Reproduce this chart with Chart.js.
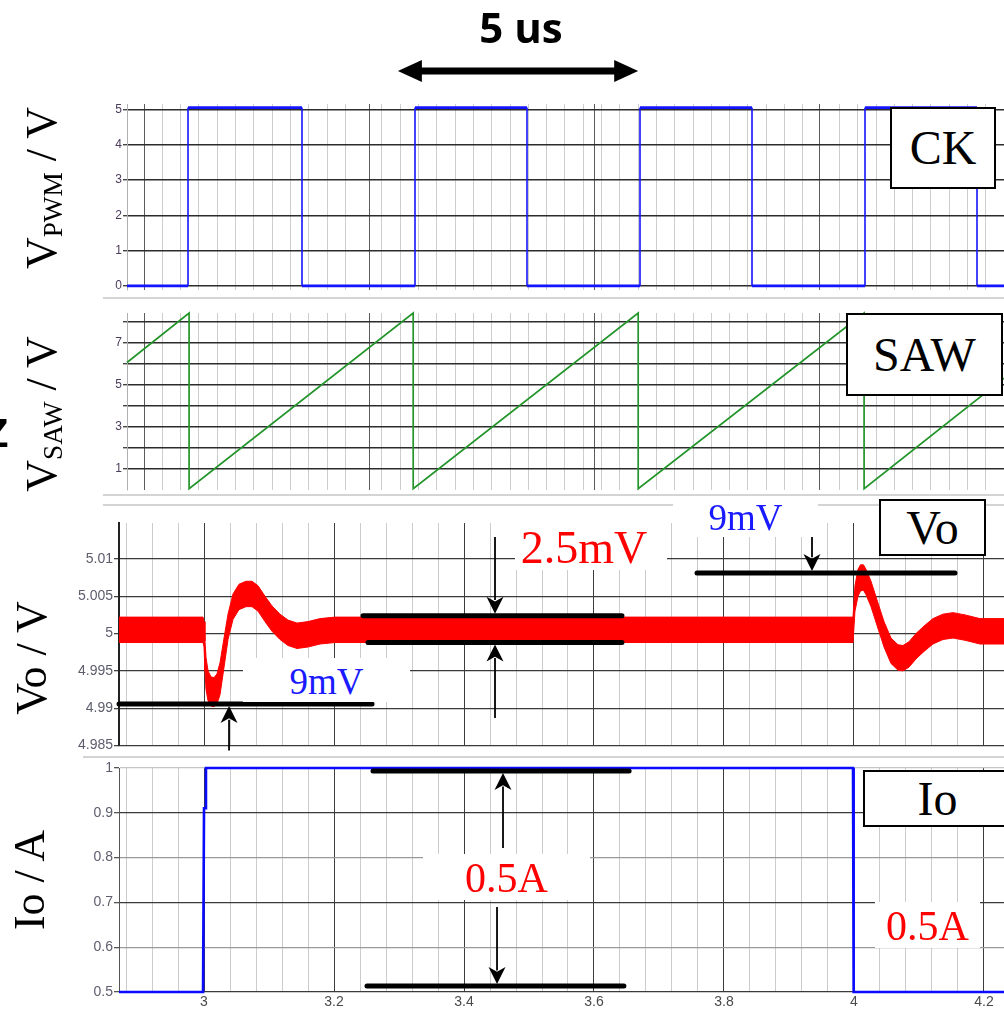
<!DOCTYPE html>
<html>
<head>
<meta charset="utf-8">
<title>V_PWM / V_SAW / Vo / Io</title>
<script src="https://cdn.jsdelivr.net/npm/chart.js@4.4.1/dist/chart.umd.min.js"></script>
<style>
  html, body { margin:0; padding:0; background:#fff; }
  body { width:1004px; height:1009px; position:relative; overflow:hidden; }
  canvas { position:absolute; left:0; }
  .sep { position:absolute; height:2px; background:#d4d4d4; }
  .serif { font-family:"Liberation Serif","Times New Roman",serif; }
  .ytitle { position:absolute; white-space:nowrap; line-height:1; font-size:44px; color:#000;
            transform:translate(-50%,-50%) rotate(-90deg); }
  .ytitle sub { font-size:0.62em; vertical-align:-0.22em; line-height:0; }
  .box { position:absolute; box-sizing:border-box; background:#fff; border:2px solid #000;
         display:flex; align-items:center; justify-content:center; line-height:1; font-size:48px; color:#000; }
  .tag { position:absolute; box-sizing:border-box; background:#fff; display:flex; align-items:center;
         justify-content:center; line-height:1; white-space:nowrap; }
</style>
</head>
<body>
<canvas id="c1" width="1004" height="298" style="top:0px"></canvas>
<canvas id="c2" width="1004" height="200" style="top:298px"></canvas>
<canvas id="c3" width="1004" height="257" style="top:498px"></canvas>
<canvas id="c4" width="1004" height="254" style="top:755px"></canvas>

<div class="sep" style="left:103px;top:297px;width:901px"></div>
<div class="sep" style="left:103px;top:494px;width:901px"></div>
<div class="sep" style="left:103px;top:504px;width:901px"></div>
<div class="sep" style="left:83px;top:756px;width:921px"></div>

<div style="position:absolute;left:521px;top:27px;transform:translate(-50%,-50%);font:700 42px 'Open Sans',sans-serif;line-height:1;white-space:nowrap;color:#000">5 us</div>

<div class="ytitle serif" style="left:42px;top:188px">V<sub>PWM</sub> / V</div>
<div class="ytitle serif" style="left:42px;top:414px">V<sub>SAW</sub> / V</div>
<div class="ytitle serif" style="left:32px;top:658px">Vo / V</div>
<div class="ytitle serif" style="left:30px;top:880px">Io / A</div>
<div style="position:absolute;left:-16px;top:413px;font:700 40px 'Liberation Sans',sans-serif;line-height:1;color:#000">Z</div>

<div class="box serif" style="left:890px;top:107px;width:106px;height:82px">CK</div>
<div class="box serif" style="left:846px;top:313px;width:157px;height:83px">SAW</div>
<div class="box serif" style="left:879px;top:499px;width:107px;height:57px">Vo</div>
<div class="box serif" style="left:863px;top:770px;width:149px;height:57px">Io</div>

<div class="tag serif" style="left:515px;top:523px;width:152px;height:47px;color:#ff0000;font-size:46px;padding-right:14px;padding-top:3px">2.5mV</div>
<div class="tag serif" style="left:243px;top:658px;width:167px;height:44px;color:#1a1aff;font-size:37px;padding-top:2px">9mV</div>
<div class="tag serif" style="left:673px;top:497px;width:145px;height:40px;color:#1a1aff;font-size:37px">9mV</div>
<div class="tag serif" style="left:423px;top:854px;width:167px;height:46px;color:#ff0000;font-size:42px;padding-top:2px">0.5A</div>
<div class="tag serif" style="left:875px;top:902px;width:105px;height:46px;color:#ff0000;font-size:42px;padding-top:2px">0.5A</div>

<script>
// ================= DATA =================
// Panels 1-2: time in microseconds
const pwmTime  = [0, 1.356, 1.356, 3.889, 3.889, 6.4, 6.4, 8.889, 8.889, 11.4, 11.4, 13.889, 13.889, 16.4, 16.4, 18.889, 18.889, 19.489];
const pwmValue = [0, 0, 5.05, 5.05, 0, 0, 5.05, 5.05, 0, 0, 5.05, 5.05, 0, 0, 5.05, 5.05, 0, 0];
const sawTime  = [0, 1.38, 1.38, 6.36, 6.36, 11.36, 11.36, 16.38, 16.38, 19.489];
const sawValue = [6.05, 8.4, 0.05, 8.4, 0.05, 8.4, 0.05, 8.4, 0.05, 5.3];
const pwmTicks = [0, 1, 2, 3, 4, 5];
const sawTicks = [1, 2, 3, 4, 5, 6, 7, 8];
const sawLabels = [1, 3, 5, 7];
const clkMajors = [0.378, 5.378, 10.378, 15.378];

// Panels 3-4: time axis
const timeLabels = [3, 3.2, 3.4, 3.6, 3.8, 4, 4.2];
const voTime = [2.8692, 2.9985, 3.0000, 3.0015, 3.0031, 3.0062, 3.0108, 3.0154, 3.0200, 3.0246, 3.0308, 3.0369, 3.0446,
                3.0538, 3.0646, 3.0738, 3.0831, 3.0938, 3.1046, 3.1169, 3.1292, 3.1431, 3.1600, 3.1785, 3.2015,
                3.9938, 3.9985, 4.0015, 4.0062, 4.0100, 4.0146, 4.0185, 4.0262, 4.0354, 4.0462, 4.0569, 4.0677, 4.0754,
                4.0846, 4.0954, 4.1077, 4.1215, 4.1369, 4.1523, 4.1708, 4.1938, 4.2308];
const voUpper = [5.0022, 5.0022, 5.0016, 4.9990, 4.9968, 4.9950, 4.9942, 4.9941, 4.9946, 4.9961, 4.9994, 5.0026, 5.0053,
                 5.0066, 5.0070, 5.0070, 5.0064, 5.0050, 5.0037, 5.0026, 5.0018, 5.0014, 5.0016, 5.0020, 5.0022,
                 5.0022, 5.0022, 5.0064, 5.0086, 5.0092, 5.0092, 5.0086, 5.0070, 5.0045, 5.0016, 4.9994, 4.9985, 4.9984,
                 4.9989, 5.0000, 5.0010, 5.0020, 5.0026, 5.0028, 5.0025, 5.0020, 5.0020];
const voLower = [4.9988, 4.9988, 4.9982, 4.9950, 4.9925, 4.9910, 4.9903, 4.9902, 4.9906, 4.9918, 4.9955, 4.9992, 5.0019,
                 5.0032, 5.0036, 5.0036, 5.0030, 5.0016, 5.0003, 4.9992, 4.9984, 4.9980, 4.9982, 4.9986, 4.9988,
                 4.9988, 4.9988, 5.0030, 5.0050, 5.0057, 5.0058, 5.0052, 5.0036, 5.0011, 4.9982, 4.9960, 4.9951, 4.9950,
                 4.9955, 4.9966, 4.9976, 4.9986, 4.9992, 4.9994, 4.9991, 4.9986, 4.9986];
const voTicks = [4.985, 4.99, 4.995, 5, 5.005, 5.01];
const ioTime  = [2.8692, 2.9985, 3.0000, 3.0020, 3.0030, 3.9985, 3.9995, 4.2308];
const ioValue = [0.5, 0.5, 0.91, 0.91, 1.0, 1.0, 0.5, 0.5];
const ioTicks = [0.5, 0.6, 0.7, 0.8, 0.9, 1.0];

// annotation anchors (data units)
const usArrow   = [6.02, 11.36];          // "5 us" span on the clock time axis
const vo9mvLow  = {y: 4.99056, x1: 3.2585, ax: 3.0385, from: 4.98433};
const vo25Up    = {y: 5.0024, x0: 3.2446, x1: 3.643};
const vo25Low   = {y: 4.9988, x0: 3.2523, x1: 3.643};
const vo25Arrow = {x: 3.4477, fromTop: 5.01294, fromBottom: 4.9887};
const vo9mvHigh = {y: 5.00811, x0: 3.7585, x1: 4.1554, ax: 3.9354, from: 5.0139};
const ioTopLine = {y: 0.9933, x0: 3.26, x1: 3.654, ax: 3.46, from: 0.8214};
const ioBotLine = {y: 0.5134, x0: 3.2508, x1: 3.646, ax: 3.4508, from: 0.6897};

// ================= HELPERS =================
const pts = (xs, ys) => xs.map((x, i) => ({x: x, y: ys[i]}));
const fixW = w => s => { s.width = w; };
const fixH = h => s => { s.height = h; };
const setTicks = list => s => { s.ticks = list.map(v => ({value: v, major: true})); };
function timeGrid(majors, from, step, to) {
  const out = [];
  const n = Math.floor((to - from) / step + 1e-6);
  for (let i = 0; i <= n; i++) {
    const v = from + i * step;
    if (!majors.some(m => Math.abs(m - v) < step / 3)) out.push({value: v, major: false});
  }
  majors.forEach(m => out.push({value: m, major: true}));
  return out.sort((a, b) => a.value - b.value);
}
function thickLine(ctx, x0, x1, y, w) {
  ctx.lineWidth = w; ctx.lineCap = 'round';
  ctx.beginPath(); ctx.moveTo(x0, y); ctx.lineTo(x1, y); ctx.stroke();
}
function vArrow(ctx, x, yFrom, yTip, head, half) {
  const d = Math.sign(yFrom - yTip);
  ctx.lineWidth = 1.8; ctx.lineCap = 'butt';
  ctx.beginPath(); ctx.moveTo(x, yFrom); ctx.lineTo(x, yTip + d * head * 0.8); ctx.stroke();
  ctx.beginPath();
  ctx.moveTo(x, yTip);
  ctx.lineTo(x - half, yTip + d * head);
  ctx.lineTo(x, yTip + d * head * 0.72);
  ctx.lineTo(x + half, yTip + d * head);
  ctx.closePath(); ctx.fill();
}

Chart.defaults.font.family = '"Liberation Sans", Arial, sans-serif';
const base = {
  responsive: false, animation: false, devicePixelRatio: 1, events: [],
  plugins: {legend: {display: false}, tooltip: {enabled: false}}
};
const narrowFont = {size: 12, family: '"Liberation Sans Narrow","Arial Narrow","Liberation Sans",sans-serif'};
const clkX = {
  type: 'linear', min: 0, max: 19.489,
  afterBuildTicks: s => { s.ticks = timeGrid(clkMajors, 0.378, 0.4067, 19.489); },
  afterFit: fixH(0),
  ticks: {display: false},
  grid: {drawTicks: false, color: c => (c.tick && c.tick.major) ? '#5c5c5c' : '#cdcdcd', lineWidth: 1},
  border: {display: false}
};
function timeX(showLabels) {
  return {
    type: 'linear', min: 2.8692, max: 4.2308,
    afterBuildTicks: s => { s.ticks = timeGrid(timeLabels, 2.88, 0.04, 4.2308); },
    afterFit: fixH(showLabels ? 17 : 0),
    ticks: {
      display: showLabels, autoSkip: false, maxRotation: 0, padding: 2, color: '#4a4a4a',
      font: {size: 14},
      callback: (v, i, t) => (t[i] && t[i].major) ? String(+(+v).toFixed(1)) : ''
    },
    grid: {drawTicks: false, color: c => (c.tick && c.tick.major) ? '#3c3c3c' : '#cccccc', lineWidth: 1},
    border: {display: false}
  };
}
const valueFont = {size: 14};

// ================= PANEL 1 : V_PWM =================
new Chart(document.getElementById('c1'), {
  type: 'line',
  data: {datasets: [{
    data: pts(pwmTime, pwmValue), borderColor: '#1414ff', borderWidth: 2.6, pointRadius: 0, tension: 0, fill: false,
    clip: 4,
    segment: {borderWidth: c => c.p0.parsed.x === c.p1.parsed.x ? 1.6 : 2.8}
  }]},
  options: Object.assign({}, base, {
    layout: {padding: {top: 104, bottom: 8.5, left: 0, right: 0}},
    scales: {
      x: clkX,
      y: {
        min: -0.1, max: 5.15, afterBuildTicks: setTicks(pwmTicks), afterFit: fixW(127),
        ticks: {color: '#4b3b5b', font: narrowFont, padding: 1, autoSkip: false},
        grid: {color: '#2c2c2c', lineWidth: 1.4, tickLength: 4, tickColor: '#444'},
        border: {color: '#b0b0b0', width: 1}
      }
    }
  }),
  plugins: [{
    id: 'usArrow',
    afterDraw(chart) {
      const {ctx, scales: {x}} = chart;
      const xa = x.getPixelForValue(usArrow[0]), xb = x.getPixelForValue(usArrow[1]), y = 71;
      ctx.save();
      ctx.fillStyle = '#000'; ctx.strokeStyle = '#000';
      ctx.lineWidth = 7; ctx.lineCap = 'butt';
      ctx.beginPath(); ctx.moveTo(xa + 20, y); ctx.lineTo(xb - 20, y); ctx.stroke();
      ctx.beginPath(); ctx.moveTo(xa, y); ctx.lineTo(xa + 24, y - 11); ctx.lineTo(xa + 24, y + 11); ctx.closePath(); ctx.fill();
      ctx.beginPath(); ctx.moveTo(xb, y); ctx.lineTo(xb - 24, y - 11); ctx.lineTo(xb - 24, y + 11); ctx.closePath(); ctx.fill();
      ctx.restore();
    }
  }]
});

// ================= PANEL 2 : V_SAW =================
new Chart(document.getElementById('c2'), {
  type: 'line',
  data: {datasets: [{
    data: pts(sawTime, sawValue), borderColor: '#23952b', borderWidth: 1.7, pointRadius: 0, tension: 0, fill: false,
    clip: 3
  }]},
  options: Object.assign({}, base, {
    layout: {padding: {top: 15, bottom: 4.5, left: 0, right: 0}},
    scales: {
      x: clkX,
      y: {
        min: 0, max: 8.4, afterBuildTicks: setTicks(sawTicks), afterFit: fixW(127),
        ticks: {color: '#4b3b5b', font: narrowFont, padding: 1, autoSkip: false,
                callback: v => sawLabels.includes(v) ? String(v) : ''},
        grid: {color: '#2c2c2c', lineWidth: 1.4, tickLength: 4, tickColor: '#444'},
        border: {color: '#b0b0b0', width: 1}
      }
    }
  })
});

// ================= PANEL 3 : Vo =================
new Chart(document.getElementById('c3'), {
  type: 'line',
  data: {datasets: [
    {data: pts(voTime, voLower), borderColor: '#ff0000', borderWidth: 1, pointRadius: 0, tension: 0, fill: false},
    {data: pts(voTime, voUpper), borderColor: '#ff0000', borderWidth: 1, pointRadius: 0, tension: 0,
     fill: '-1', backgroundColor: '#ff0000'}
  ]},
  options: Object.assign({}, base, {
    layout: {padding: {top: 25, bottom: 8, left: 0, right: 0}},
    scales: {
      x: timeX(false),
      y: {
        min: 4.985, max: 5.0148, afterBuildTicks: setTicks(voTicks), afterFit: fixW(119),
        ticks: {color: '#5d5d6d', font: valueFont, padding: 1, autoSkip: false,
                callback: v => String(+(+v).toFixed(3))},
        grid: {color: '#3a3a3a', lineWidth: 1.3, tickLength: 5, tickColor: '#444'},
        border: {color: '#222', width: 2}
      }
    }
  }),
  plugins: [{
    id: 'voMarks',
    afterDatasetsDraw(chart) {
      const {ctx, scales: {x, y}} = chart;
      const X = v => x.getPixelForValue(v), Y = v => y.getPixelForValue(v);
      ctx.save(); ctx.strokeStyle = '#000'; ctx.fillStyle = '#000';
      thickLine(ctx, x.left, X(vo9mvLow.x1), Y(vo9mvLow.y), 5);
      thickLine(ctx, X(vo25Up.x0), X(vo25Up.x1), Y(vo25Up.y), 5);
      thickLine(ctx, X(vo25Low.x0), X(vo25Low.x1), Y(vo25Low.y), 5);
      thickLine(ctx, X(vo9mvHigh.x0), X(vo9mvHigh.x1), Y(vo9mvHigh.y), 5);
      vArrow(ctx, X(vo9mvLow.ax), Y(vo9mvLow.from), Y(vo9mvLow.y) + 2, 17, 8.5);
      vArrow(ctx, X(vo25Arrow.x), Y(vo25Arrow.fromTop), Y(vo25Up.y) - 2, 17, 8.5);
      vArrow(ctx, X(vo25Arrow.x), Y(vo25Arrow.fromBottom), Y(vo25Low.y) + 2, 17, 8.5);
      vArrow(ctx, X(vo9mvHigh.ax), Y(vo9mvHigh.from), Y(vo9mvHigh.y) - 2, 17, 8.5);
      ctx.restore();
    }
  }]
});

// ================= PANEL 4 : Io =================
const ioGridColor = v => (Math.abs(v - 0.8) < 1e-6 || Math.abs(v - 0.6) < 1e-6) ? '#9a9a9a'
                       : (Math.abs(v - 1.0) < 1e-6 ? '#c4c4c4' : '#3a3a3a');
new Chart(document.getElementById('c4'), {
  type: 'line',
  data: {datasets: [{
    data: pts(ioTime, ioValue), borderColor: '#0a0aff', borderWidth: 2.6, pointRadius: 0, tension: 0, fill: false,
    clip: 4
  }]},
  options: Object.assign({}, base, {
    layout: {padding: {top: 13, bottom: 0, left: 0, right: 0}},
    scales: {
      x: timeX(true),
      y: {
        min: 0.5, max: 1.0, afterBuildTicks: setTicks(ioTicks), afterFit: fixW(119),
        ticks: {color: '#5d5d6d', font: valueFont, padding: 1, autoSkip: false,
                callback: v => String(+(+v).toFixed(1))},
        grid: {color: c => ioGridColor(c.tick ? c.tick.value : 0), lineWidth: 1.3, tickLength: 5, tickColor: '#555'},
        border: {color: '#555', width: 1}
      }
    }
  }),
  plugins: [{
    id: 'ioMarks',
    afterDatasetsDraw(chart) {
      const {ctx, scales: {x, y}} = chart;
      const X = v => x.getPixelForValue(v), Y = v => y.getPixelForValue(v);
      ctx.save(); ctx.strokeStyle = '#000'; ctx.fillStyle = '#000';
      thickLine(ctx, X(ioTopLine.x0), X(ioTopLine.x1), Y(ioTopLine.y), 5);
      thickLine(ctx, X(ioBotLine.x0), X(ioBotLine.x1), Y(ioBotLine.y), 5);
      vArrow(ctx, X(ioTopLine.ax), Y(ioTopLine.from), Y(ioTopLine.y) + 2, 17, 8.5);
      vArrow(ctx, X(ioBotLine.ax), Y(ioBotLine.from), Y(ioBotLine.y) - 2, 17, 8.5);
      ctx.restore();
    }
  }]
});
</script>
</body>
</html>
